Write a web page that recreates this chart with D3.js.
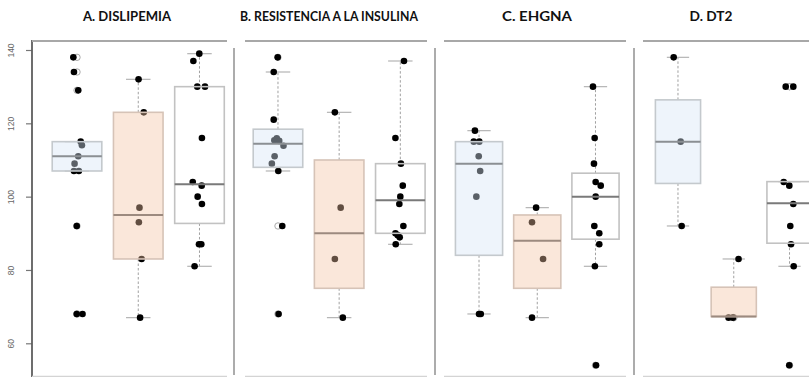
<!DOCTYPE html>
<html>
<head>
<meta charset="utf-8">
<script src="https://cdn.jsdelivr.net/npm/d3@7"></script>
<style>
  html, body { margin: 0; padding: 0; background: #fff; }
  svg { display: block; }
</style>
</head>
<body>
<svg id="chart" width="809" height="377"></svg>
<script>
// Panel titles and the three groups compared in each panel
const panelTitles = ["A. DISLIPEMIA", "B. RESISTENCIA A LA INSULINA", "C. EHGNA", "D. DT2"];
const groupNames = ["Grupo 1", "Grupo 2", "Grupo 3"];
const yTicks = [60, 80, 100, 120, 140];

// Box statistics per panel: [whisker low, Q1, median, Q3, whisker high]
const boxA = [[107, 107, 111, 115, 115], [67, 83, 95, 123, 132], [81, 92.7, 103.4, 130, 139]];
const boxB = [[107, 108, 114.4, 118.4, 134], [67, 75, 90, 110, 123], [87, 90, 99, 109, 137]];
const boxC = [[68, 84, 109, 115, 118], [67, 75, 88, 95, 97], [81, 88.4, 100, 106.4, 130]];
const boxD = [[92, 103.6, 115, 126.4, 138], [67.3, 67.3, 67.3, 75.3, 83], [81, 87.3, 98.2, 104.1, 104.1]];

// Individual observations per panel and group
const pointsA = [
  [138, 134, 129, 115, 114, 111, 109, 107, 107, 92, 68, 68],
  [132, 123, 97, 93, 83, 67],
  [139, 137, 130, 130, 116, 104, 103, 100, 98, 87, 87, 81]
];
const pointsB = [
  [138, 134, 121, 115.4, 115.9, 115.2, 113.9, 111, 109, 107, 92, 68],
  [123, 97, 83, 67],
  [137, 116, 109, 103, 100, 98, 92, 90, 89.5, 88.9, 87]
];
const pointsC = [
  [118, 115, 115, 111, 107, 100, 68, 68],
  [97, 93, 83, 67],
  [130, 116, 109, 104, 103, 100, 92, 90, 87, 81, 54]
];
const pointsD = [
  [138, 115, 92],
  [83, 67, 67],
  [130, 130, 104, 103, 98, 92, 87, 81, 54]
];

// Horizontal jitter of each observation, as a fraction of the group step
const jitterA = [
  [-0.06, -0.05, 0.02, 0.06, 0.08, 0.02, -0.04, -0.05, 0.03, -0.005, -0.005, 0.09],
  [0.005, 0.09, 0.02, 0.01, 0.055, 0.03],
  [-0.003, -0.10, -0.036, 0.09, 0.04, -0.11, 0.036, -0.03, 0.04, -0.008, 0.03, -0.08]
];
const jitterB = [
  [-0.005, -0.07, -0.07, -0.06, -0.02, 0.02, 0.09, -0.055, -0.10, 0.005, 0.07, 0.01],
  [-0.07, 0.025, -0.07, 0.06],
  [0.06, -0.08, 0.01, 0.04, 0, -0.016, 0.05, -0.08, -0.043, -0.01, -0.075]
];
const jitterC = [
  [-0.07, -0.09, 0.005, -0.005, 0.02, -0.046, 0, 0.03],
  [-0.02, -0.09, 0.10, -0.09],
  [-0.043, -0.014, -0.026, 0.003, 0.09, 0.003, -0.02, 0.065, 0.065, -0.01, 0.01]
];
const jitterD = [
  [-0.077, 0.048, 0.066],
  [0.086, -0.093, -0.014],
  [-0.068, 0.068, -0.104, -0.004, 0.068, 0.014, 0.027, 0.075, -0.004]
];

const boxStats = [boxA, boxB, boxC, boxD];
const pointSets = [pointsA, pointsB, pointsC, pointsD];
const jitterSets = [jitterA, jitterB, jitterC, jitterD];

// Layout of the four panels
const panelLayout = [
  { range: [46.4, 230.1], titleX: 127, titleW: 88, frameTop: [32, 227], sep: 234 },
  { range: [247.4, 430.9], titleX: 329, titleW: 178, frameTop: [245, 427], sep: 435 },
  { range: [449.9, 624.6], titleX: 537, titleW: 70, frameTop: [444, 626], sep: 634 },
  { range: [650.1, 817.4], titleX: 711, titleW: 43, frameTop: [643, 809], sep: null }
];

const boxStyle = [
  { fill: "rgb(214,229,245)", opacity: 0.42, stroke: "#c4c9cd", median: "#8b8f93" },
  { fill: "rgb(243,195,162)", opacity: 0.4, stroke: "#d6c3b7", median: "#9c8a7f" },
  { fill: "none", opacity: 0, stroke: "#c2c2c2", median: "#7a7a7a" }
];

const svg = d3.select("#chart");
const y = d3.scaleLinear().domain([60, 140]).range([343.3, 50]);

// Y axis (first panel only)
const axisG = svg.append("g").attr("transform", "translate(32,0)");
axisG.call(d3.axisLeft(y).tickValues(yTicks).tickSize(6).tickPadding(12).tickFormat(d3.format("d")));
axisG.select(".domain").remove();
axisG.selectAll(".tick line").attr("stroke", "#777").attr("stroke-width", 1.2);
axisG.selectAll(".tick text")
  .attr("fill", "#666")
  .attr("font-family", "Liberation Sans, Arial, sans-serif")
  .attr("font-size", 8.5)
  .attr("text-anchor", "middle")
  .attr("x", 0)
  .attr("dy", 0)
  .attr("transform", "translate(-21,0) rotate(-90)")
  .attr("dominant-baseline", "central");

// Frames: top rules, separators, bottom rules
const frameG = svg.append("g");
frameG.append("line").attr("x1", 32).attr("x2", 32).attr("y1", 40).attr("y2", 377)
  .attr("stroke", "#5e5e5e").attr("stroke-width", 1.8);
panelLayout.forEach(p => {
  frameG.append("line").attr("x1", p.frameTop[0]).attr("x2", p.frameTop[1]).attr("y1", 41).attr("y2", 41)
    .attr("stroke", "#a8a8a8").attr("stroke-width", 2);
  frameG.append("line").attr("x1", p.frameTop[0]).attr("x2", p.frameTop[1]).attr("y1", 376.5).attr("y2", 376.5)
    .attr("stroke", "#d4d4d4").attr("stroke-width", 1.5);
  if (p.sep !== null) {
    frameG.append("line").attr("x1", p.sep).attr("x2", p.sep).attr("y1", 48).attr("y2", 375)
      .attr("stroke", "#acacac").attr("stroke-width", 2);
  }
});

// Panels
panelTitles.forEach((title, pi) => {
  const lay = panelLayout[pi];
  const x = d3.scalePoint().domain(groupNames).range(lay.range).padding(0.5);
  const step = x.step();
  const boxW = step * 0.81;
  const capW = step * 0.4;
  const g = svg.append("g");

  svg.append("text")
    .attr("x", lay.titleX).attr("y", 21)
    .attr("text-anchor", "middle")
    .attr("font-family", "Lato, 'Open Sans', sans-serif")
    .attr("font-weight", "bold")
    .attr("font-size", 13.5)
    .attr("fill", "#111")
    .attr("textLength", lay.titleW)
    .attr("lengthAdjust", "spacingAndGlyphs")
    .text(title);

  groupNames.forEach((gn, gi) => {
    const [lo, q1, med, q3, hi] = boxStats[pi][gi];
    const cx = x(gn);
    const st = boxStyle[gi];
    const vals = pointSets[pi][gi];
    const jit = jitterSets[pi][gi];

    // whiskers
    if (hi > q3) {
      g.append("line").attr("x1", cx).attr("x2", cx).attr("y1", y(q3)).attr("y2", y(hi))
        .attr("stroke", "#a0a0a0").attr("stroke-width", 1).attr("stroke-dasharray", "2.5,2");
    }
    if (lo < q1) {
      g.append("line").attr("x1", cx).attr("x2", cx).attr("y1", y(q1)).attr("y2", y(lo))
        .attr("stroke", "#a0a0a0").attr("stroke-width", 1).attr("stroke-dasharray", "2.5,2");
    }
    [lo, hi].forEach(v => {
      g.append("line").attr("x1", cx - capW / 2).attr("x2", cx + capW / 2).attr("y1", y(v)).attr("y2", y(v))
        .attr("stroke", "#b4b4b4").attr("stroke-width", 1.2);
    });

    // outlier markers at the group centre
    g.selectAll(null).data(vals.filter(v => v > hi || v < lo)).join("circle")
      .attr("cx", cx).attr("cy", d => y(d)).attr("r", 3.2)
      .attr("fill", "#fff").attr("stroke", "#aaa").attr("stroke-width", 1);

    // jittered observations
    g.selectAll(null).data(vals.map((v, i) => ({ v, j: jit[i] }))).join("circle")
      .attr("cx", d => cx + d.j * step).attr("cy", d => y(d.v)).attr("r", 3.3)
      .attr("fill", "#000");

    // box
    g.append("rect")
      .attr("x", cx - boxW / 2).attr("width", boxW)
      .attr("y", y(q3)).attr("height", y(q1) - y(q3))
      .attr("fill", st.fill).attr("fill-opacity", st.opacity)
      .attr("stroke", st.stroke).attr("stroke-width", 1.6);

    g.append("line").attr("x1", cx - boxW / 2).attr("x2", cx + boxW / 2)
      .attr("y1", y(med)).attr("y2", y(med))
      .attr("stroke", st.median).attr("stroke-width", 2);
  });
});
</script>
</body>
</html>
